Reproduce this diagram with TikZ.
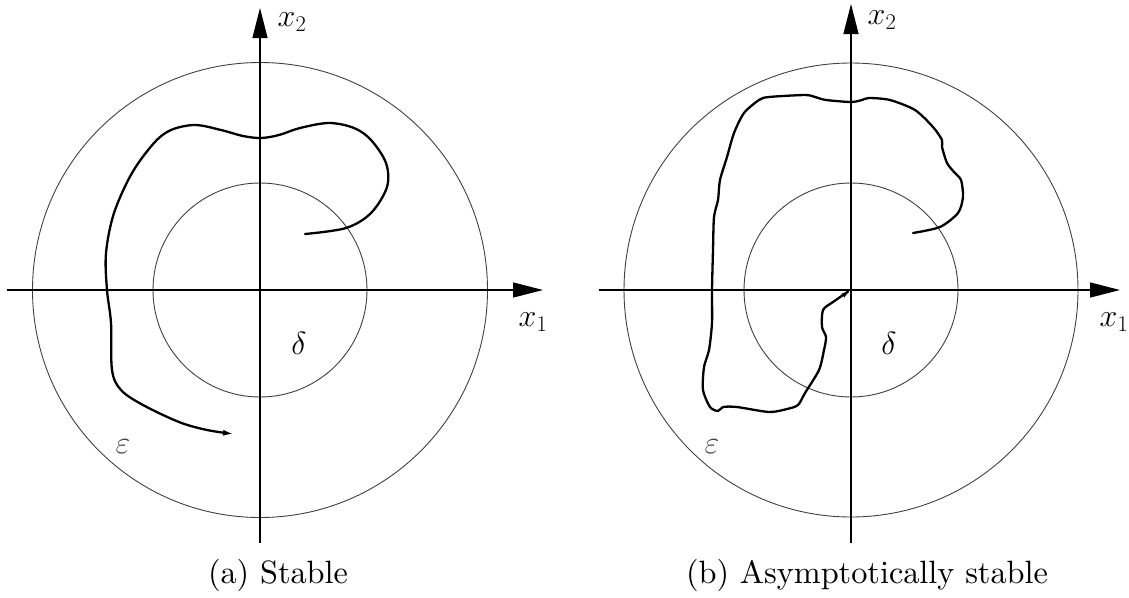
\RequirePackage{fix-cm}
\documentclass[tikz,border=0pt]{standalone}
\usepackage{fontspec}
\setmainfont{lmroman10-regular.otf}
\usetikzlibrary{arrows.meta}
\begin{document}
\begin{tikzpicture}[x=1pt,y=-1pt,
  axis/.style={line width=1.3pt,-{Triangle[length=30pt,width=15pt]}},
  ring/.style={line width=0.9pt,black!75},
  traj/.style={line width=2.3pt,line join=round,line cap=round},
  lbl/.style={inner sep=0pt,font=\fontsize{32}{38}\selectfont},
  captext/.style={inner sep=0pt,anchor=base,font=\fontsize{32.3}{38}\selectfont}]
\useasboundingbox (0,0) rectangle (1129,597);
% ---------- (a) ----------
\coordinate (oa) at (260,290);
\coordinate (aL) at (7,290);
\coordinate (aR) at (543,290);
\coordinate (aB) at (260,543);
\coordinate (aT) at (260,8);
\draw[ring] (oa) circle[radius=227.5];
\draw[ring] (oa) circle[radius=107];
\draw[axis] (aL) -- (aR);
\draw[axis] (aB) -- (aT);
\node[lbl] (ax2) at (292,22) {$x_2$};
\node[lbl] (ax1) at (533,322) {$x_1$};
\node[lbl] (adelta) at (299,343) {$\delta$};
\node[lbl,text=black!75] (aeps) at (123,447) {$\varepsilon$};
\draw[traj,-{Latex[length=11pt,width=6pt]}] plot[smooth,tension=0.55] coordinates{
(305,234) (346,228) (371,213) (387,187) (386,163) (371,140) (354,128) (329,123) (300,128) (279,135) (261,138) (243,136) (221,130) (195,125) (171,130) (154,143) (132,173) (114,213) (106,253) (107,290) (111,323) (112,370) (121,390) (143,405) (179,422) (207,430) (234,434)};
\node[captext] (capa) at (278,583) {(a) Stable};
% ---------- (b) ----------
\coordinate (ob) at (851,290);
\coordinate (bL) at (599,290);
\coordinate (bR) at (1120,290);
\coordinate (bB) at (851,543);
\coordinate (bT) at (851,4);
\draw[ring] (ob) circle[radius=227];
\draw[ring] (ob) circle[radius=107];
\draw[axis] (bL) -- (bR);
\draw[axis] (bB) -- (bT);
\node[lbl] (bx2) at (882,20) {$x_2$};
\node[lbl] (bx1) at (1114,322) {$x_1$};
\node[lbl] (bdelta) at (889,343) {$\delta$};
\node[lbl,text=black!75] (beps) at (712,447) {$\varepsilon$};
\draw[traj,-{Latex[length=9pt,width=5pt]}] plot[smooth,tension=0.45] coordinates{
(913,233) (940,227) (958,213) (963,197) (961,180) (954,172) (947,163) (942,147) (942,140) (933,127) (915,110) (890,100) (869,98) (862,100) (851,102) (826,100) (815,97) (805,95) (769,97) (759,100) (744,113) (734,133) (727,157) (720,180) (718,200) (714,217) (713,250) (712,290) (712,323) (709,350) (704,367) (703,390) (710,407) (718,411) (723,407) (737,407) (769,412) (787,409) (798,405) (805,393) (819,370) (824,350) (826,337) (822,327) (823,310) (833,302) (846,293) (850,290)};
\node[captext] (capb) at (867,583) {(b) Asymptotically stable};
\end{tikzpicture}
\end{document}
